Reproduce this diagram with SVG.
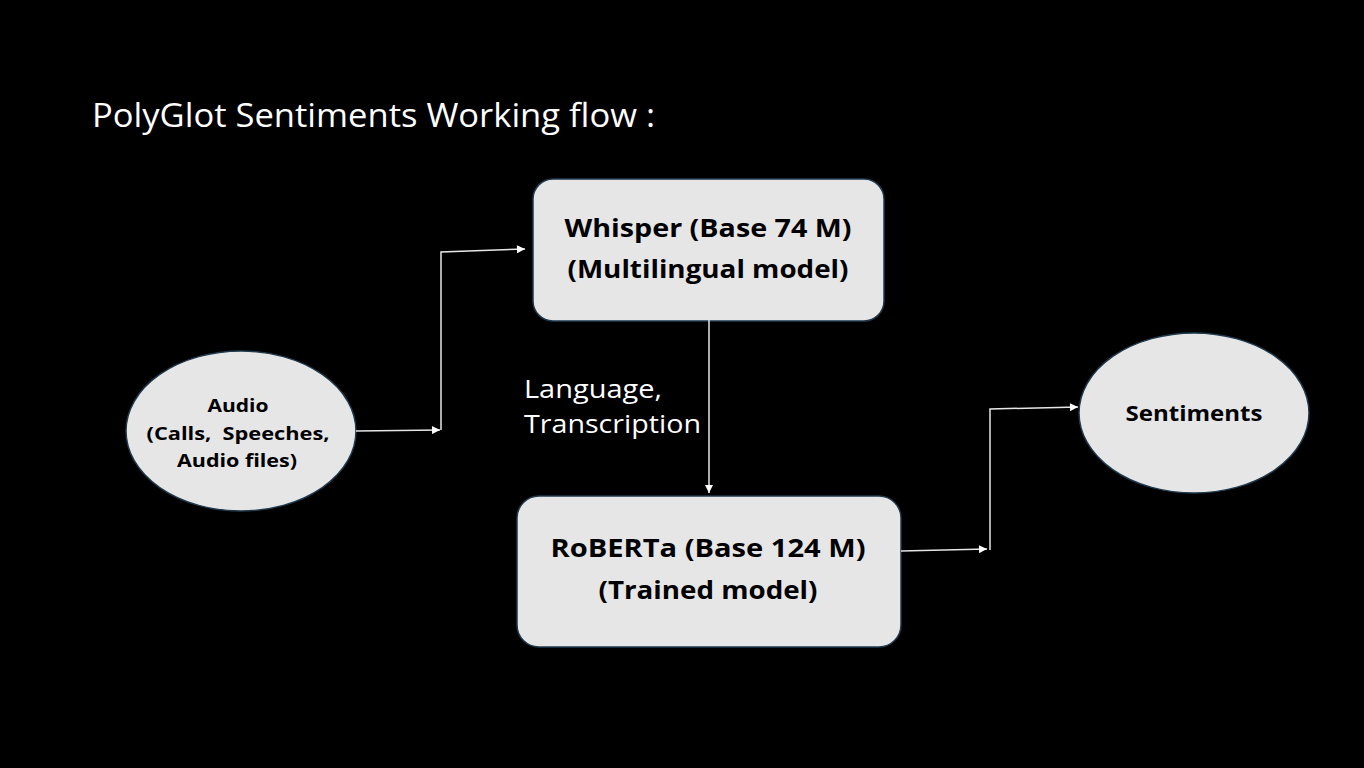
<svg xmlns="http://www.w3.org/2000/svg" width="1364" height="768" viewBox="0 0 1364 768">
<style>
.node{fill:#e6e6e6;stroke:#1f3a4d;stroke-width:1.5}
.lbl{font-family:"Open Sans","Liberation Sans",sans-serif;font-weight:bold;fill:#000;text-anchor:middle}
.wt{font-family:"Open Sans","Liberation Sans",sans-serif;fill:#fff}
.conn{fill:none;stroke:#e6e6e6;stroke-width:1.5}
</style>
<defs>
<marker id="arr" viewBox="0 0 10 10" refX="10" refY="5" markerWidth="10" markerHeight="8" markerUnits="userSpaceOnUse" orient="auto">
<path d="M0,0 L10,5 L0,10 z" fill="#ffffff"/>
</marker>
</defs>
<rect width="1364" height="768" fill="#000"/>
<text class="wt" x="92" y="127" font-size="32" textLength="563" lengthAdjust="spacingAndGlyphs">PolyGlot Sentiments Working flow :</text>
<g id="audio">
<ellipse class="node" cx="241" cy="431" rx="115" ry="80"/>
<text class="lbl" x="238" y="412" font-size="18" textLength="61" lengthAdjust="spacingAndGlyphs">Audio</text>
<text class="lbl" x="238" y="440" font-size="18" textLength="183" lengthAdjust="spacingAndGlyphs" xml:space="preserve">(Calls,  Speeches,</text>
<text class="lbl" x="237" y="467" font-size="18" textLength="120" lengthAdjust="spacingAndGlyphs">Audio files)</text>
</g>
<g id="whisper">
<rect class="node" x="533" y="179" width="351" height="142" rx="20"/>
<text class="lbl" x="708" y="237" font-size="25" textLength="287" lengthAdjust="spacingAndGlyphs">Whisper (Base 74 M)</text>
<text class="lbl" x="708" y="278" font-size="25" textLength="281" lengthAdjust="spacingAndGlyphs">(Multilingual model)</text>
</g>
<text class="wt" x="524" y="398" font-size="25" textLength="138" lengthAdjust="spacingAndGlyphs">Language,</text>
<text class="wt" x="524" y="433" font-size="25" textLength="177" lengthAdjust="spacingAndGlyphs">Transcription</text>
<g id="roberta">
<rect class="node" x="517" y="496" width="384" height="151" rx="22"/>
<text class="lbl" x="708" y="557" font-size="25" textLength="315" lengthAdjust="spacingAndGlyphs">RoBERTa (Base 124 M)</text>
<text class="lbl" x="708" y="599" font-size="25" textLength="219" lengthAdjust="spacingAndGlyphs">(Trained model)</text>
</g>
<g id="sentiments">
<ellipse class="node" cx="1194" cy="413" rx="115" ry="80"/>
<text class="lbl" x="1194" y="421" font-size="21" textLength="137" lengthAdjust="spacingAndGlyphs">Sentiments</text>
</g>
<g id="connectors">
<path class="conn" d="M356,431 L440,430" marker-end="url(#arr)"/>
<path class="conn" d="M441,430 L441,252 L525,249" marker-end="url(#arr)"/>
<path class="conn" d="M709,302 L709,493" marker-end="url(#arr)"/>
<path class="conn" d="M901,551 L987,549" marker-end="url(#arr)"/>
<path class="conn" d="M990,550 L990,409 L1078,407" marker-end="url(#arr)"/>
</g>
</svg>
